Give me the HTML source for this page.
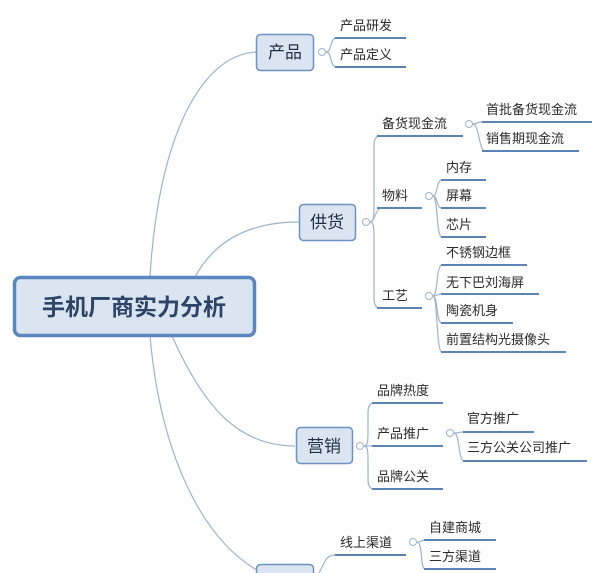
<!DOCTYPE html>
<html><head><meta charset="utf-8"><style>
html,body{margin:0;padding:0;background:#fff;}
svg{display:block;}
text{font-family:"Liberation Sans","Noto Sans CJK SC",sans-serif;fill:#2b2b2b;}
.l{font-size:13px;}
.b{font-size:17px;fill:#1e2f45;}
</style></head><body>
<svg width="600" height="573" viewBox="0 0 600 573" xmlns="http://www.w3.org/2000/svg">
<g fill="none" stroke="#9fb3cc" stroke-width="1.2">
<!-- root connectors -->
<path d="M150 277 C158 140 200 55 256 52"/>
<path d="M195 277 C215 240 250 222 299 222"/>
<path d="M172 336 C205 410 240 446 295 446"/>
<path d="M150 336 C160 450 200 540 262 573"/>
<!-- 产品 bracket -->
<path d="M326 52 C332 52 330 38 336 38"/>
<path d="M326 52 C332 52 330 67 336 67"/>
<!-- 供货 bracket -->
<path d="M370 222 C374 222 374 215 374 205 L374 146 Q374 136 380 136"/>
<path d="M370 222 C374 222 374 214 380 208"/>
<path d="M370 222 C374 222 374 230 374 240 L374 298 Q374 308 380 308"/>
<path d="M473 124 C479 124 476 122 483 122"/>
<path d="M473 124 C479 124 479 151 485 151"/>
<path d="M433 196 C438 196 436 180 442 180"/>
<path d="M433 196 C438 196 436 208 442 208"/>
<path d="M433 196 C438 196 436 237 442 237"/>
<path d="M433 296 C438 296 436 265 442 265"/>
<path d="M433 296 C438 296 437 294 442 294"/>
<path d="M433 296 C438 296 436 323 442 323"/>
<path d="M433 296 C438 296 436 352 442 352"/>
<!-- 营销 -->
<path d="M364 446 C368 446 368 440 368 430 L368 413 Q368 403 374 403"/>
<path d="M364 446 L374 446"/>
<path d="M364 446 C368 446 368 452 368 462 L368 479 Q368 489 374 489"/>
<path d="M454 433 C460 433 458 432 464 432"/>
<path d="M454 433 C460 433 458 461 464 461"/>
<!-- bottom -->
<path d="M319 573 C326 560 326 555 336 555"/>
<path d="M417 542 C423 542 420 540 425 540"/>
<path d="M417 542 C423 542 420 569 425 569"/>
</g>
<!-- collapse circles -->
<g fill="#fff" stroke="#9fb3cc" stroke-width="1">
<circle cx="322" cy="52" r="3.5"/><circle cx="366" cy="222" r="3.5"/>
<circle cx="469" cy="124" r="3.5"/><circle cx="429" cy="196" r="3.5"/>
<circle cx="429" cy="296" r="3.5"/><circle cx="360" cy="446" r="3.5"/>
<circle cx="450" cy="433" r="3.5"/><circle cx="413" cy="542" r="3.5"/>
</g>
<!-- underlines -->
<g stroke="#5b84b5" stroke-width="2">
<line x1="335" y1="38" x2="406" y2="38"/><line x1="335" y1="67" x2="406" y2="67"/>
<line x1="377" y1="136" x2="463" y2="136"/>
<line x1="482" y1="122" x2="592" y2="122"/><line x1="482" y1="151" x2="579" y2="151"/>
<line x1="377" y1="208" x2="422" y2="208"/>
<line x1="441" y1="180" x2="486" y2="180"/><line x1="441" y1="208" x2="486" y2="208"/><line x1="441" y1="237" x2="486" y2="237"/>
<line x1="377" y1="308" x2="422" y2="308"/>
<line x1="441" y1="265" x2="527" y2="265"/><line x1="441" y1="294" x2="539" y2="294"/>
<line x1="441" y1="323" x2="513" y2="323"/><line x1="441" y1="352" x2="566" y2="352"/>
<line x1="372" y1="403" x2="443" y2="403"/><line x1="372" y1="446" x2="443" y2="446"/><line x1="372" y1="489" x2="443" y2="489"/>
<line x1="463" y1="432" x2="534" y2="432"/><line x1="463" y1="461" x2="587" y2="461"/>
<line x1="335" y1="555" x2="406" y2="555"/>
<line x1="424" y1="540" x2="496" y2="540"/><line x1="424" y1="569" x2="496" y2="569"/>
</g>
<!-- boxes -->
<g fill="#dbe5f1" stroke="#6d93c4" stroke-width="1.5">
<rect x="256.5" y="34.5" width="57" height="36" rx="4"/>
<rect x="299.5" y="204.5" width="56" height="36" rx="4"/>
<rect x="296.5" y="427.5" width="56" height="36" rx="4"/>
<rect x="256.5" y="564.5" width="57" height="36" rx="4"/>
<rect x="14.5" y="277.5" width="240" height="58" rx="6" stroke="#5a87c0" stroke-width="3.5"/>
</g>
<text x="134" y="315" text-anchor="middle" style="font-size:23px;font-weight:bold;fill:#2c4466">手机厂商实力分析</text>
<text class="b" x="285" y="58" text-anchor="middle">产品</text>
<text class="b" x="327" y="228" text-anchor="middle">供货</text>
<text class="b" x="324" y="452" text-anchor="middle">营销</text>
<g class="l">
<text class="l" x="340" y="30">产品研发</text>
<text class="l" x="340" y="59">产品定义</text>
<text class="l" x="382" y="128">备货现金流</text>
<text class="l" x="486" y="114">首批备货现金流</text>
<text class="l" x="486" y="143">销售期现金流</text>
<text class="l" x="382" y="200">物料</text>
<text class="l" x="446" y="172">内存</text>
<text class="l" x="446" y="200">屏幕</text>
<text class="l" x="446" y="229">芯片</text>
<text class="l" x="382" y="300">工艺</text>
<text class="l" x="446" y="257">不锈钢边框</text>
<text class="l" x="446" y="287">无下巴刘海屏</text>
<text class="l" x="446" y="315">陶瓷机身</text>
<text class="l" x="446" y="344">前置结构光摄像头</text>
<text class="l" x="377" y="395">品牌热度</text>
<text class="l" x="377" y="438">产品推广</text>
<text class="l" x="377" y="481">品牌公关</text>
<text class="l" x="467" y="423">官方推广</text>
<text class="l" x="467" y="452">三方公关公司推广</text>
<text class="l" x="340" y="547">线上渠道</text>
<text class="l" x="429" y="532">自建商城</text>
<text class="l" x="429" y="561">三方渠道</text>
</g>
</svg>
</body></html>
